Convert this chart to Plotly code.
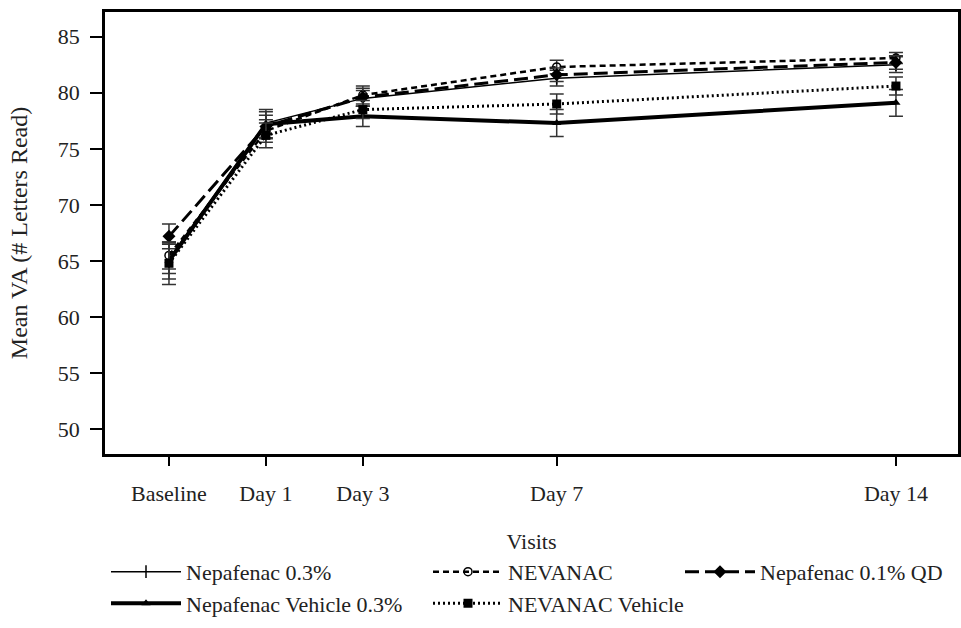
import plotly.graph_objects as go

visits = ["Baseline", "Day 1", "Day 3", "Day 7", "Day 14"]
visit_x = [-1, 1, 3, 7, 14]

nep03 = [65.2, 77.3, 79.5, 81.3, 82.5]
nep03_err = [1.3, 1.0, 0.7, 0.7, 0.7]
nevanac = [65.5, 76.6, 79.8, 82.3, 83.1]
nevanac_err = [1.2, 1.0, 0.8, 0.6, 0.5]
qd = [67.2, 77.0, 79.6, 81.6, 82.7]
qd_err = [1.1, 1.0, 0.8, 0.6, 0.6]
nepveh = [65.0, 77.2, 77.9, 77.3, 79.1]
nepveh_err = [1.6, 1.3, 0.9, 1.2, 1.2]
nevveh = [64.8, 76.2, 78.5, 79.0, 80.6]
nevveh_err = [1.9, 1.1, 0.8, 0.9, 0.8]

y_ticks = [50, 55, 60, 65, 70, 75, 80, 85]

series = [
    ("Nepafenac 0.3%", nep03, nep03_err, dict(width=1.5, dash="solid"),
     dict(symbol="line-ns", size=9, line=dict(width=1.5, color="black")), "legend"),
    ("NEVANAC", nevanac, nevanac_err, dict(width=2.5, dash="6px,4px"),
     dict(symbol="circle-open", size=8, line=dict(width=1.5, color="black")), "legend2"),
    ("Nepafenac 0.1% QD", qd, qd_err, dict(width=3, dash="14px,6px"),
     dict(symbol="diamond", size=10), "legend3"),
    ("Nepafenac Vehicle 0.3%", nepveh, nepveh_err, dict(width=4, dash="solid"),
     dict(symbol="triangle-up", size=8), "legend"),
    ("NEVANAC Vehicle", nevveh, nevveh_err, dict(width=3, dash="2px,3px"),
     dict(symbol="square", size=9), "legend2"),
]

fig = go.Figure()
for name, vals, errs, ln, mk, lg in series:
    ln = dict(ln, color="black")
    mk = dict(mk, color="black")
    fig.add_trace(go.Scatter(
        x=visit_x, y=vals, name=name, mode="lines+markers",
        line=ln, marker=mk, legend=lg,
        error_y=dict(type="data", array=errs, visible=True, color="#333333", thickness=1.5, width=7),
    ))

font_family = "Liberation Serif, Times New Roman, serif"
ML, MR, MT, MB = 105, 3, 12, 171
W, H = 961, 628
PW, PH = W - ML - MR, H - MT - MB


def px_to_paper_x(px):
    return (px - ML) / PW


def px_to_paper_y(py):
    return (H - MB - py) / PH


legend_common = dict(
    orientation="v", xanchor="left", yanchor="top", y=px_to_paper_y(554.5),
    font=dict(family=font_family, size=22, color="#222"),
    tracegroupgap=0, bgcolor="rgba(0,0,0,0)", itemwidth=70,
)
fig.update_layout(
    width=W, height=H,
    margin=dict(l=ML, r=MR, t=MT, b=MB),
    paper_bgcolor="white", plot_bgcolor="white",
    font=dict(family=font_family, size=22, color="#222"),
    showlegend=True,
    legend=dict(legend_common, x=px_to_paper_x(106)),
    legend2=dict(legend_common, x=px_to_paper_x(428)),
    legend3=dict(legend_common, x=px_to_paper_x(680)),
)
fig.update_xaxes(
    range=[-2.32, 15.28], automargin=False,
    tickmode="array", tickvals=visit_x, ticktext=visits,
    ticks="outside", ticklen=9, tickwidth=2, tickcolor="black",
    showline=True, linecolor="black", linewidth=2.5, mirror=True,
    showgrid=False, zeroline=False,
    ticklabelstandoff=9,
    title=dict(text="Visits", standoff=29, font=dict(size=22)),
)
fig.update_yaxes(
    range=[47.8, 87.2], automargin=False,
    tickmode="array", tickvals=y_ticks,
    ticks="outside", ticklen=12, tickwidth=2, tickcolor="black",
    showline=True, linecolor="black", linewidth=2.5, mirror=True,
    showgrid=False, zeroline=False,
    ticklabelstandoff=6,
    title=dict(text="Mean VA (# Letters Read)", standoff=24, font=dict(size=24)),
)

fig.write_html(
    "out.html",
    config={"displayModeBar": False},
    post_script="document.body.style.margin='0px';document.body.style.overflow='hidden';",
)
